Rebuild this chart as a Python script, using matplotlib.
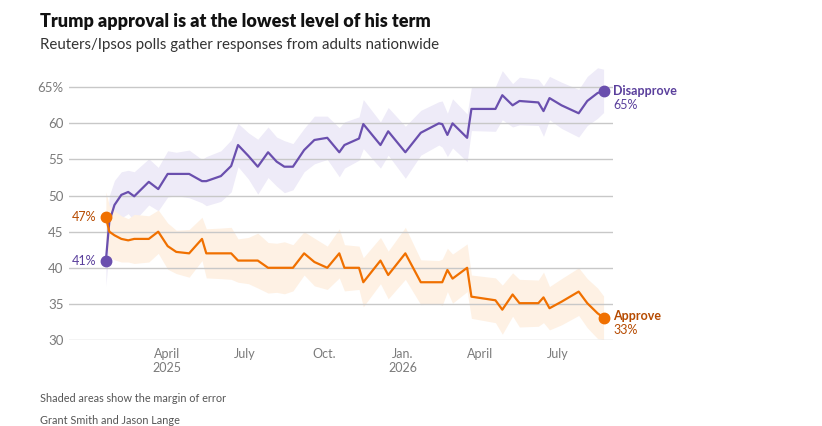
import numpy as np
import pandas as pd
import matplotlib
matplotlib.use("Agg")
import matplotlib.pyplot as plt

plt.rcParams['font.family'] = ['Lato', 'DejaVu Sans']

# poll dates and values
dates = pd.to_datetime([
    "2025-01-20", "2025-01-24", "2025-01-30", "2025-02-07", "2025-02-15", "2025-02-22",
    "2025-03-11", "2025-03-22", "2025-04-02", "2025-04-12", "2025-04-27", "2025-05-12",
    "2025-05-17", "2025-06-03", "2025-06-15", "2025-06-23", "2025-07-05", "2025-07-16",
    "2025-07-28", "2025-08-07", "2025-08-16", "2025-08-26", "2025-09-08", "2025-09-20",
    "2025-10-05", "2025-10-19", "2025-10-25", "2025-11-11", "2025-11-16", "2025-12-06",
    "2025-12-15", "2026-01-04", "2026-01-22", "2026-02-12", "2026-02-16", "2026-02-22",
    "2026-02-28", "2026-03-17", "2026-03-22", "2026-04-19", "2026-04-27", "2026-05-09",
    "2026-05-17", "2026-06-08", "2026-06-14", "2026-06-21", "2026-07-05", "2026-07-25",
    "2026-08-04", "2026-08-16", "2026-08-23",
])
disapprove = [
    41.0, 46.4, 48.7, 50.1, 50.5, 49.9, 51.9, 50.9, 53.0, 53.0, 53.0, 52.0,
    52.0, 52.7, 54.1, 57.0, 55.5, 54.0, 56.0, 54.7, 54.0, 54.0, 56.3, 57.7,
    58.0, 56.0, 57.0, 57.9, 59.9, 57.0, 58.9, 56.0, 58.7, 60.0, 59.9, 58.4,
    60.0, 58.0, 62.0, 62.0, 63.9, 62.5, 63.1, 62.9, 61.7, 63.5, 62.5, 61.4,
    63.1, 64.2, 64.5,
]
approve = [
    47.0, 45.0, 44.5, 44.0, 43.8, 44.0, 44.0, 45.0, 43.0, 42.2, 42.0, 44.0,
    42.0, 42.0, 42.0, 41.0, 41.0, 41.0, 40.0, 40.0, 40.0, 40.0, 42.0, 40.8,
    40.0, 42.0, 40.0, 40.0, 38.0, 41.0, 39.0, 42.0, 38.0, 38.0, 38.0, 39.7,
    38.5, 40.0, 36.0, 35.5, 34.2, 36.3, 35.1, 35.1, 35.9, 34.4, 35.3, 36.7,
    35.1, 33.7, 33.1,
]
margin = [
    3.5, 3.6, 3.4, 3.2, 3.0, 3.4, 3.2, 3.0, 3.2, 3.0, 3.3, 3.0,
    3.4, 3.5, 3.6, 3.0, 3.2, 3.8, 3.5, 3.4, 3.6, 3.2, 3.0, 3.3,
    3.0, 3.4, 3.2, 3.0, 3.4, 3.2, 3.3, 3.6, 3.1, 3.0, 3.2, 3.0,
    3.4, 3.3, 3.0, 3.1, 3.4, 3.0, 3.3, 3.2, 3.5, 3.0, 3.2, 3.3,
    3.4, 3.5, 3.0,
]

tick_dates = pd.to_datetime(["2025-04-01", "2025-07-01", "2025-10-01",
                             "2026-01-01", "2026-04-01", "2026-07-01"])
tick_labels = ["April\n2025", "July", "Oct.", "Jan.\n2026", "April", "July"]
y_ticks = [30, 35, 40, 45, 50, 55, 60, 65]
y_labels = ["30", "35", "40", "45", "50", "55", "60", "65%"]

purple = "#6a4fae"
orange = "#f07000"
purple_text = "#5a3f9c"
orange_text = "#b64a00"

d = np.array(disapprove)
a = np.array(approve)
m = np.array(margin)

fig = plt.figure(figsize=(8.22, 4.26), dpi=100)
ax = fig.add_axes([69 / 822, 1 - 340 / 426, (613 - 69) / 822, (340 - 65.6) / 426])

ax.fill_between(dates, d - m, d + m, color="#eeebf8", lw=0, zorder=1)
ax.fill_between(dates, a - m, a + m, color="#fef1e4", lw=0, zorder=1)

ax.plot(dates, d, color=purple, lw=1.6, zorder=3, solid_joinstyle="round")
ax.plot(dates, a, color=orange, lw=1.6, zorder=3, solid_joinstyle="round")

ax.plot(dates[[0, -1]], d[[0, -1]], "o", color=purple, ms=7.5, zorder=4, clip_on=False)
ax.plot(dates[[0, -1]], a[[0, -1]], "o", color=orange, ms=7.5, zorder=4, clip_on=False)

ax.set_xlim(pd.Timestamp("2024-12-08"), pd.Timestamp("2026-09-03"))
ax.set_ylim(30, 68)
ax.set_yticks(y_ticks)
ax.set_yticklabels(y_labels)
ax.set_xticks(tick_dates)
ax.set_xticklabels(tick_labels)
ax.grid(axis="y", color="#c8c8c8", lw=1, zorder=2)
for s in ax.spines.values():
    s.set_visible(False)
ax.tick_params(axis="y", length=0, pad=4, labelsize=9.5, labelcolor="#7a7a7a")
ax.tick_params(axis="x", length=0, pad=6, labelsize=9, labelcolor="#7a7a7a")
ax.patch.set_alpha(0)

# start labels
ax.annotate(f"{approve[0]:.0f}%", (dates[0], a[0]), xytext=(-7, 0), textcoords="offset points",
            ha="right", va="center", fontsize=9, color=orange_text)
ax.annotate(f"{disapprove[0]:.0f}%", (dates[0], d[0]), xytext=(-7, 0), textcoords="offset points",
            ha="right", va="center", fontsize=9, color=purple_text)

# end labels
ax.annotate("Disapprove", (dates[-1], d[-1]), xytext=(7, 0), textcoords="offset points",
            ha="left", va="center", fontsize=9, fontweight="bold", color=purple_text)
ax.annotate(f"{round(disapprove[-1] + 0.1):.0f}%", (dates[-1], d[-1]), xytext=(7, -10), textcoords="offset points",
            ha="left", va="center", fontsize=9, color=purple_text)
ax.annotate("Approve", (dates[-1], a[-1]), xytext=(7, 1), textcoords="offset points",
            ha="left", va="center", fontsize=9, fontweight="bold", color=orange_text)
ax.annotate(f"{approve[-1]:.0f}%", (dates[-1], a[-1]), xytext=(7, -9), textcoords="offset points",
            ha="left", va="center", fontsize=9, color=orange_text)

fig.text(40 / 822, 1 - 22 / 426, "Trump approval is at the lowest level of his term",
         fontsize=13, fontweight="heavy", color="#111111", va="center")
fig.text(40 / 822, 1 - 45 / 426, "Reuters/Ipsos polls gather responses from adults nationwide",
         fontsize=10.8, color="#333333", va="center")
fig.text(40 / 822, 1 - 399 / 426, "Shaded areas show the margin of error",
         fontsize=7.8, color="#555555", va="center")
fig.text(40 / 822, 1 - 420 / 426, "Grant Smith and Jason Lange",
         fontsize=7.8, color="#555555", va="center")

fig.savefig("out.png", dpi=100)
